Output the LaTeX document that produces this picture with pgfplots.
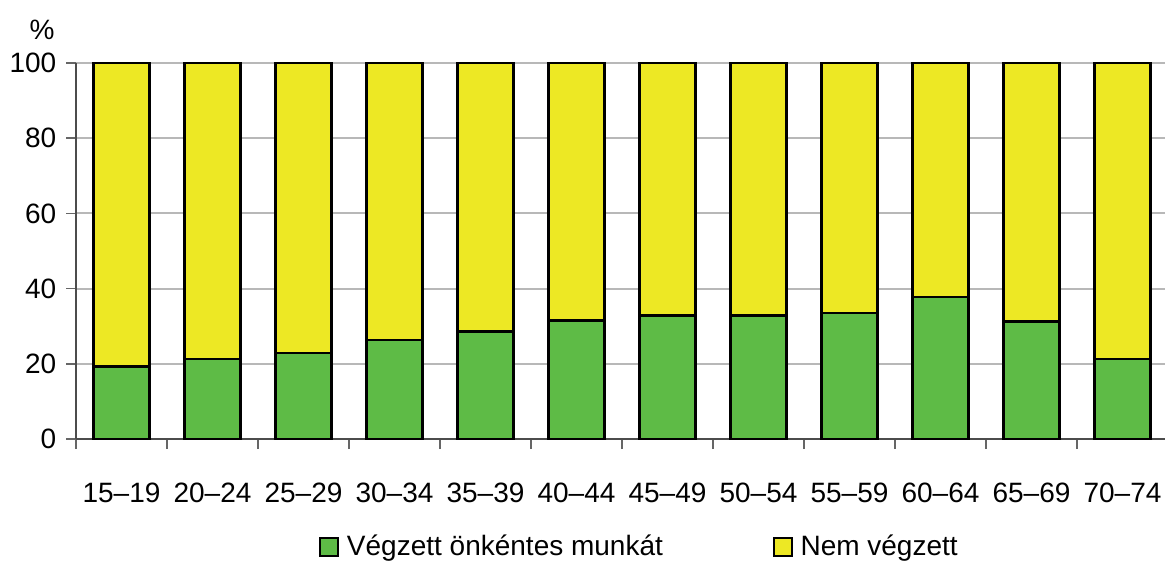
\documentclass[border=0pt]{standalone}
\usepackage{fontspec}
\setmainfont{Liberation Sans}
\usepackage{pgfplots}
\pgfplotsset{compat=1.18}
\definecolor{grn}{HTML}{5EBB46}
\definecolor{ylw}{HTML}{EDE824}
\begin{document}
\fontsize{14pt}{16pt}\selectfont
\begin{tikzpicture}
\begin{axis}[
  at={(0,0)}, anchor=south west,
  scale only axis, width=546pt, height=188pt,
  ybar stacked, bar width=28pt,
  clip=false,
  xmin=-0.5, xmax=11.5, ymin=0, ymax=100,
  xtick={0,...,11},
  xticklabels={15--19,20--24,25--29,30--34,35--39,40--44,45--49,50--54,55--59,60--64,65--69,70--74},
  minor xtick={-0.5,0.5,...,11.5},
  major x tick style={draw=none},
  ytick={0,20,...,100},
  ymajorgrids, grid style={draw=black!28, line width=1pt},
  axis x line=bottom, axis y line=left,
  axis line style={-, draw=black!70, line width=1pt},
  tick align=outside, major tick length=5pt, minor tick length=5pt,
  tick style={draw=black!60, line width=0.8pt},
  /pgf/number format/assume math mode=true,
  tick label style={font=\fontsize{14pt}{16pt}\selectfont},
  xticklabel style={yshift=-12pt},
  legend style={at={(axis description cs:0.517,-0.287)}, anchor=center, draw=none,
    font=\fontsize{14pt}{16pt}\selectfont,
    /tikz/every odd column/.append style={column sep=2pt},
    /tikz/every even column/.append style={column sep=53pt}},
  legend columns=2,
  legend image code/.code={\draw[#1, draw=black, line width=0.8pt] (0pt,-4.5pt) rectangle (9pt,4.5pt);},
]
\addplot[fill=grn, draw=black, line width=1.2pt] coordinates {(0,19.3) (1,21.3) (2,22.9) (3,26.3) (4,28.6) (5,31.5) (6,32.8) (7,32.8) (8,33.5) (9,37.7) (10,31.3) (11,21.3)};
\addplot[fill=ylw, draw=black, line width=1.2pt] coordinates {(0,80.7) (1,78.7) (2,77.1) (3,73.7) (4,71.4) (5,68.5) (6,67.2) (7,67.2) (8,66.5) (9,62.3) (10,68.7) (11,78.7)};
\legend{Végzett önkéntes munkát, Nem végzett}
\node at (rel axis cs:0,1) [xshift=-17pt, yshift=16.5pt] {\%};
\end{axis}
\pgfresetboundingbox
\path[use as bounding box] (-38pt,-61pt) rectangle (544.5pt,219.5pt);
\end{tikzpicture}
\end{document}
